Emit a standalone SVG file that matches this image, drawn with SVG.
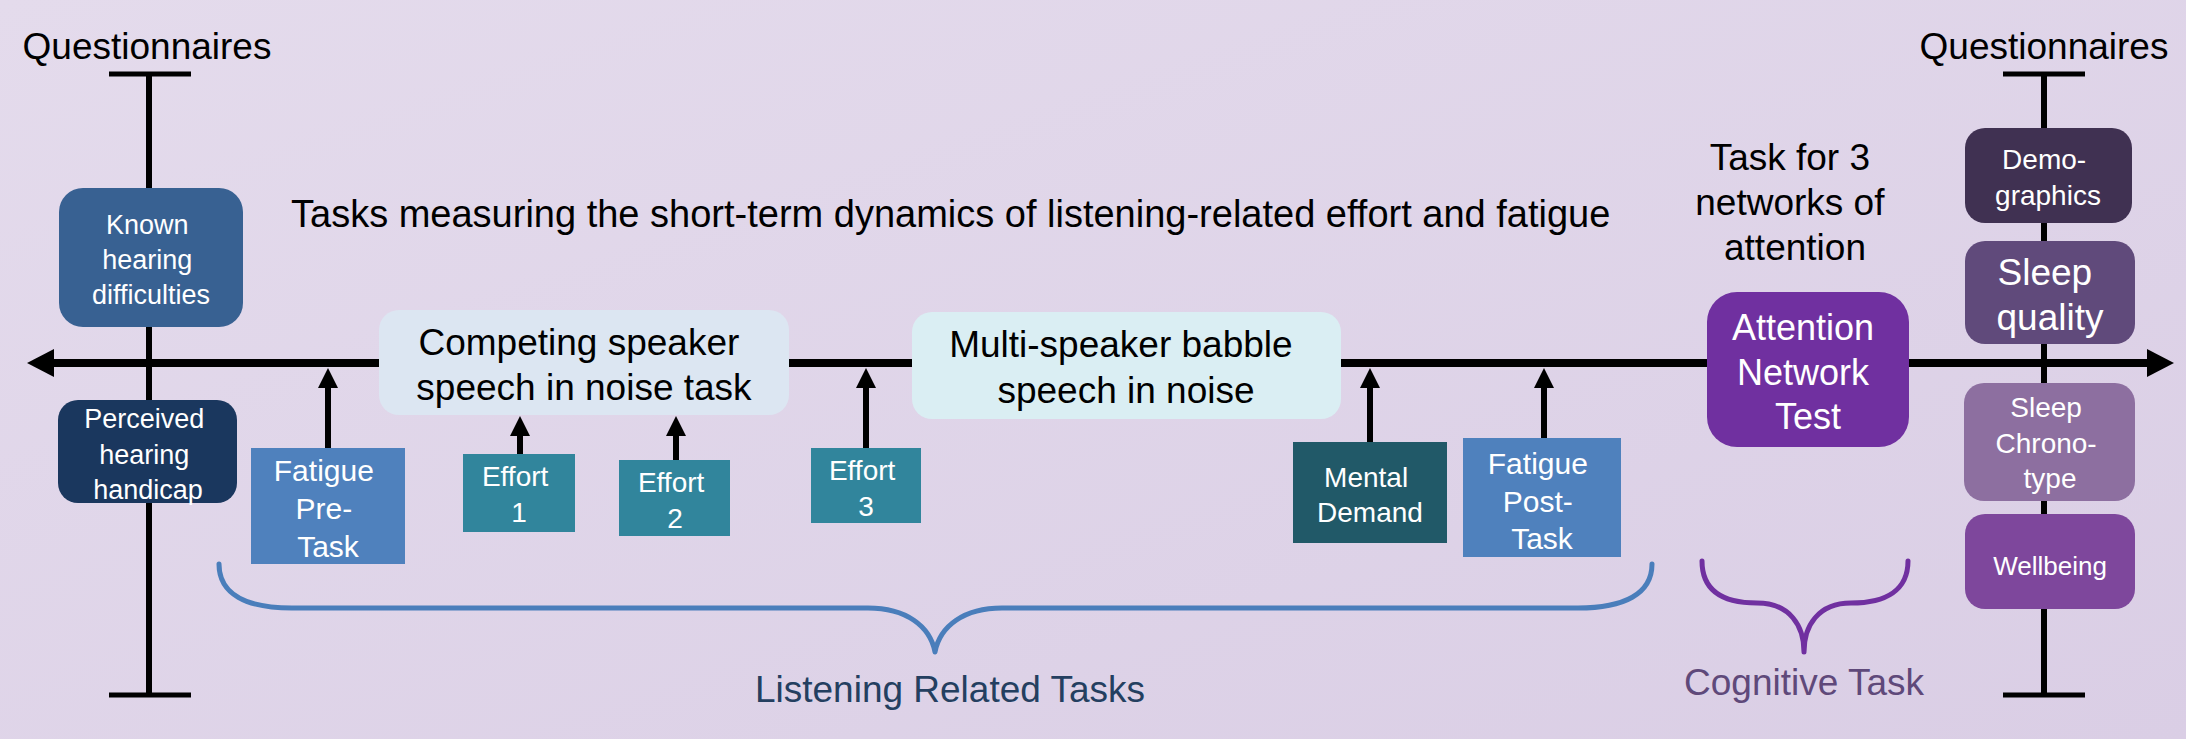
<svg xmlns="http://www.w3.org/2000/svg" width="2186" height="739" viewBox="0 0 2186 739">
  <defs>
    <linearGradient id="bg" x1="0" y1="0" x2="1" y2="1">
      <stop offset="0" stop-color="#e4dbec"/>
      <stop offset="1" stop-color="#dacee5"/>
    </linearGradient>
    <marker id="headUp" markerUnits="userSpaceOnUse" markerWidth="20" markerHeight="20" refX="0" refY="10" orient="auto" viewBox="0 0 20 20">
      <path d="M0,0 L20,10 L0,20 Z" fill="#000"/>
    </marker>
    <marker id="headAxis" markerUnits="userSpaceOnUse" markerWidth="27" markerHeight="28" refX="0" refY="14" orient="auto-start-reverse" viewBox="0 0 27 28">
      <path d="M0,0 L27,14 L0,28 Z" fill="#000"/>
    </marker>
    <style>
      text { font-family: "Liberation Sans", Arial, sans-serif; text-anchor: middle; }
      .title { font-size: 38px; fill: #000; }
      .big { font-size: 37px; }
      .mid { font-size: 30px; }
      .sm { font-size: 28px; }
      .xs { font-size: 26px; }
      .w { fill: #fff; }
      .k { fill: #000; }
      .rule { stroke: #000; stroke-width: 6; fill: none; }
      .cap { stroke: #000; stroke-width: 5; fill: none; }
      .axis { stroke: #000; stroke-width: 8; fill: none; }
      .up { stroke: #000; stroke-width: 6; fill: none; marker-end: url(#headUp); }
      .brace { fill: none; stroke-width: 5; stroke-linecap: round; stroke-linejoin: round; }
    </style>
  </defs>

  <rect x="0" y="0" width="2186" height="739" fill="url(#bg)"/>

  <!-- timeline, questionnaire rails, arrows and braces -->
  <g id="connectors">
    <line class="rule" x1="149" y1="74" x2="149" y2="695"/>
    <line class="cap" x1="109" y1="74" x2="191" y2="74"/>
    <line class="cap" x1="109" y1="695" x2="191" y2="695"/>

    <line class="rule" x1="2044" y1="74" x2="2044" y2="695"/>
    <line class="cap" x1="2003" y1="74" x2="2085" y2="74"/>
    <line class="cap" x1="2003" y1="695" x2="2085" y2="695"/>

    <line class="axis" x1="54" y1="363" x2="2147" y2="363" marker-start="url(#headAxis)" marker-end="url(#headAxis)"/>

    <line class="up" x1="328" y1="448" x2="328" y2="388"/>
    <line class="up" x1="520" y1="454" x2="520" y2="436"/>
    <line class="up" x1="676" y1="460" x2="676" y2="436"/>
    <line class="up" x1="866" y1="448" x2="866" y2="388"/>
    <line class="up" x1="1370" y1="442" x2="1370" y2="388"/>
    <line class="up" x1="1544" y1="438" x2="1544" y2="388"/>

    <path class="brace" stroke="#4a7ebb" d="M219,564 C219,594 246,608 292,608 L868,608 C906,608 930,626 935,652 C940,626 964,608 1002,608 L1578,608 C1624,608 1652,594 1652,564"/>
    <path class="brace" stroke="#7030a0" d="M1702,561 C1702,590 1722,603 1757,603 C1790,603 1804,626 1804,652 C1804,626 1818,603 1851,603 C1886,603 1908,590 1908,561"/>
  </g>

  <!-- headings -->
  <g id="labels">
    <text class="big k" x="147" y="59">Questionnaires</text>
    <text class="big k" x="2044" y="59">Questionnaires</text>
    <text class="title" x="291" y="227" style="text-anchor:start">Tasks measuring the short-term dynamics of listening-related effort and fatigue</text>
    <text class="big k" x="1795">
      <tspan x="1795" y="170">Task for 3</tspan>
      <tspan x="1795" y="215">networks of</tspan>
      <tspan x="1795" y="260">attention</tspan>
    </text>
    <text class="big" x="950" y="702" fill="#243f60">Listening Related Tasks</text>
    <text class="big" x="1804" y="695" fill="#5f497a">Cognitive Task</text>
  </g>

  <!-- questionnaires before the session -->
  <g id="known-hearing">
    <rect x="59" y="188" width="184" height="139" rx="24" fill="#386192"/>
    <text class="sm w" style="font-size:27px">
      <tspan x="151" y="234">Known</tspan>
      <tspan x="151" y="269">hearing</tspan>
      <tspan x="151" y="304">difficulties</tspan>
    </text>
  </g>
  <g id="perceived-hearing">
    <rect x="58" y="400" width="179" height="103" rx="20" fill="#1a375e"/>
    <text class="sm w" style="font-size:27px">
      <tspan x="148" y="428">Perceived</tspan>
      <tspan x="148" y="464">hearing</tspan>
      <tspan x="148" y="499">handicap</tspan>
    </text>
  </g>

  <!-- listening tasks -->
  <g id="fatigue-pre">
    <rect x="251" y="448" width="154" height="116" fill="#4f81bd"/>
    <text class="mid w">
      <tspan x="328" y="481">Fatigue</tspan>
      <tspan x="328" y="519">Pre-</tspan>
      <tspan x="328" y="557">Task</tspan>
    </text>
  </g>
  <g id="competing-speaker">
    <rect x="379" y="310" width="410" height="105" rx="20" fill="#dce6f2"/>
    <text class="big k">
      <tspan x="584" y="355">Competing speaker</tspan>
      <tspan x="584" y="400">speech in noise task</tspan>
    </text>
  </g>
  <g id="effort-1">
    <rect x="463" y="454" width="112" height="78" fill="#31859c"/>
    <text class="sm w">
      <tspan x="519" y="486">Effort</tspan>
      <tspan x="519" y="522">1</tspan>
    </text>
  </g>
  <g id="effort-2">
    <rect x="619" y="460" width="111" height="76" fill="#31859c"/>
    <text class="sm w">
      <tspan x="675" y="492">Effort</tspan>
      <tspan x="675" y="528">2</tspan>
    </text>
  </g>
  <g id="effort-3">
    <rect x="811" y="448" width="110" height="75" fill="#31859c"/>
    <text class="sm w">
      <tspan x="866" y="480">Effort</tspan>
      <tspan x="866" y="516">3</tspan>
    </text>
  </g>
  <g id="babble">
    <rect x="912" y="312" width="429" height="107" rx="20" fill="#daeef3"/>
    <text class="big k">
      <tspan x="1126" y="357">Multi-speaker babble</tspan>
      <tspan x="1126" y="403">speech in noise</tspan>
    </text>
  </g>
  <g id="mental-demand">
    <rect x="1293" y="442" width="154" height="101" fill="#215968"/>
    <text class="sm w">
      <tspan x="1370" y="487">Mental</tspan>
      <tspan x="1370" y="522">Demand</tspan>
    </text>
  </g>
  <g id="fatigue-post">
    <rect x="1463" y="438" width="158" height="119" fill="#4f81bd"/>
    <text class="mid w">
      <tspan x="1542" y="474">Fatigue</tspan>
      <tspan x="1542" y="512">Post-</tspan>
      <tspan x="1542" y="549">Task</tspan>
    </text>
  </g>

  <!-- cognitive task -->
  <g id="attention-network-test">
    <rect x="1707" y="292" width="202" height="155" rx="30" fill="#7030a0"/>
    <text class="big w" style="font-size:36px">
      <tspan x="1808" y="340">Attention</tspan>
      <tspan x="1808" y="385">Network</tspan>
      <tspan x="1808" y="429">Test</tspan>
    </text>
  </g>

  <!-- questionnaires after the session -->
  <g id="demographics">
    <rect x="1965" y="128" width="167" height="95" rx="20" fill="#403152"/>
    <text class="sm w">
      <tspan x="2048" y="169">Demo-</tspan>
      <tspan x="2048" y="205">graphics</tspan>
    </text>
  </g>
  <g id="sleep-quality">
    <rect x="1965" y="241" width="170" height="103" rx="20" fill="#604a7b"/>
    <text class="big w">
      <tspan x="2050" y="285">Sleep</tspan>
      <tspan x="2050" y="330">quality</tspan>
    </text>
  </g>
  <g id="sleep-chronotype">
    <rect x="1964" y="383" width="171" height="118" rx="20" fill="#8d6fa0"/>
    <text class="sm w">
      <tspan x="2050" y="417">Sleep</tspan>
      <tspan x="2050" y="453">Chrono-</tspan>
      <tspan x="2050" y="488">type</tspan>
    </text>
  </g>
  <g id="wellbeing">
    <rect x="1965" y="514" width="170" height="95" rx="20" fill="#7e479c"/>
    <text class="xs w" x="2050" y="575">Wellbeing</text>
  </g>
</svg>
